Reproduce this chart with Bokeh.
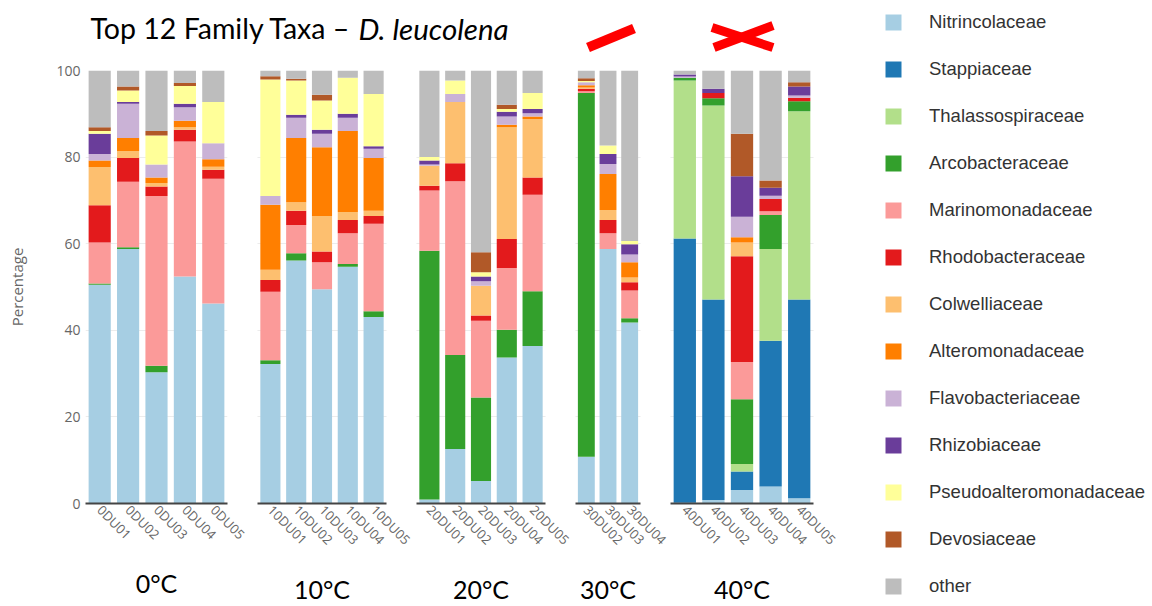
from bokeh.plotting import figure
from bokeh.layouts import row, column
from bokeh.models import (ColumnDataSource, FactorRange, Range1d, FixedTicker, Grid,
                          Label, Legend, LegendItem)
from bokeh.embed import file_html
from bokeh.resources import INLINE

# ---------------- data ----------------
samples = ["0DU01", "0DU02", "0DU03", "0DU04", "0DU05",
           "10DU01", "10DU02", "10DU03", "10DU04", "10DU05",
           "20DU01", "20DU02", "20DU03", "20DU04", "20DU05",
           "30DU02", "30DU03", "30DU04",
           "40DU01", "40DU02", "40DU03", "40DU04", "40DU05"]
groups = ["0°C"] * 5 + ["10°C"] * 5 + ["20°C"] * 5 + ["30°C"] * 3 + ["40°C"] * 5
group_names = ["0°C", "10°C", "20°C", "30°C", "40°C"]

families = ["Nitrincolaceae", "Stappiaceae", "Thalassospiraceae", "Arcobacteraceae",
            "Marinomonadaceae", "Rhodobacteraceae", "Colwelliaceae", "Alteromonadaceae",
            "Flavobacteriaceae", "Rhizobiaceae", "Pseudoalteromonadaceae", "Devosiaceae",
            "other"]
colors = ["#a6cee3", "#1f78b4", "#b2df8a", "#33a02c", "#fb9a99", "#e31a1c", "#fdbf6f",
          "#ff7f00", "#cab2d6", "#6a3d9a", "#ffff99", "#b15928", "#bdbdbd"]

Nitrincolaceae = [50.5, 58.8, 30.3, 52.4, 46.2, 32.2, 56.1, 49.5, 54.7, 43.1,
                  0.9, 12.6, 5.2, 33.7, 36.4, 10.8, 58.8, 41.8, 0.2, 0.8, 3.1, 3.9, 1.2]
Stappiaceae = [0, 0, 0, 0, 0, 0, 0, 0, 0, 0, 0, 0, 0, 0, 0, 0, 0, 0,
               61.0, 46.3, 4.3, 33.7, 45.9]
Thalassospiraceae = [0, 0, 0, 0, 0, 0, 0, 0, 0, 0, 0, 0, 0, 0, 0, 0, 0, 0,
                     36.5, 44.8, 1.7, 21.2, 43.5]
Arcobacteraceae = [0.3, 0.4, 1.5, 0, 0, 0.9, 1.7, 0, 0.6, 1.3,
                   57.5, 21.7, 19.3, 6.4, 12.6, 84.0, 0, 1.0, 0.6, 1.7, 15.0, 7.8, 2.3]
Marinomonadaceae = [9.5, 15.1, 39.2, 31.2, 28.8, 15.8, 6.5, 6.2, 7.1, 20.2,
                    13.9, 40.1, 17.7, 14.3, 22.3, 0.4, 3.6, 6.4, 0, 0, 8.6, 0.9, 0]
Rhodobacteraceae = [8.6, 5.5, 2.2, 2.7, 2.1, 2.7, 3.3, 2.5, 3.1, 1.8,
                    1.1, 4.2, 1.2, 6.7, 4.0, 0.6, 3.1, 1.9, 0, 1.2, 24.4, 2.8, 0.8]
Colwelliaceae = [8.8, 1.6, 0.8, 0.6, 0.7, 2.4, 2.0, 8.2, 1.8, 1.2,
                 4.6, 14.1, 6.9, 25.8, 13.5, 0.3, 2.3, 1.1, 0, 0, 3.2, 0, 0]
Alteromonadaceae = [1.5, 3.0, 1.3, 1.5, 1.7, 15.0, 14.8, 15.9, 18.7, 12.2,
                    0, 0, 0, 0.6, 0.6, 0.5, 8.3, 3.5, 0, 0, 1.2, 0, 0]
Flavobacteriaceae = [1.5, 7.9, 3.0, 3.1, 3.7, 2.0, 4.7, 3.1, 3.1, 2.1,
                     0.3, 1.9, 1.0, 1.9, 0.7, 0.7, 2.3, 1.8, 0.3, 0, 4.7, 0.8, 0.5]
Rhizobiaceae = [4.7, 0.4, 0, 0.8, 0, 0, 0.7, 0.9, 0.9, 0.6,
                0.9, 0, 1.1, 1.1, 1.0, 0, 2.3, 2.4, 0.5, 1.0, 9.4, 1.8, 2.1]
Pseudoalteromonadaceae = [0.6, 2.7, 6.7, 4.1, 9.5, 26.9, 7.9, 6.8, 8.3, 12.1,
                          0.8, 3.1, 1.0, 0.6, 3.7, 0.3, 2.0, 0.7, 0, 0, 0, 0, 0]
Devosiaceae = [0.9, 0.9, 1.0, 0.7, 0, 0.8, 0.4, 1.3, 0, 0,
               0, 0, 4.6, 1.0, 0, 0.6, 0, 0, 0, 0, 9.8, 1.7, 1.0]
other = [13.1, 3.7, 14.0, 2.9, 7.3, 1.3, 1.9, 5.6, 1.7, 5.4,
         20.0, 2.3, 42.0, 7.9, 5.2, 1.8, 17.3, 39.4, 0.9, 4.2, 14.6, 25.4, 2.7]

y_ticks = [0, 20, 40, 60, 80, 100]

values = dict(zip(families, [Nitrincolaceae, Stappiaceae, Thalassospiraceae, Arcobacteraceae,
                             Marinomonadaceae, Rhodobacteraceae, Colwelliaceae, Alteromonadaceae,
                             Flavobacteriaceae, Rhizobiaceae, Pseudoalteromonadaceae,
                             Devosiaceae, other]))

# ---------------- layout constants (px) ----------------
PAGE_W, PAGE_H = 1152, 606
frame_w = [142, 129, 129, 65, 143]
left_b = [85, 0, 0, 0, 0]
right_b = [30, 30, 30, 30, 59]
header_h = 62
top_b = 8
frame_h = 433
bottom_b = PAGE_H - header_h - top_b - frame_h
row_h = top_b + frame_h + bottom_b

panels = []
frame_centers = []
x_cursor = 0
for gi, g in enumerate(group_names):
    idx = [i for i, gg in enumerate(groups) if gg == g]
    data = {"sample": [samples[i] for i in idx]}
    for f in families:
        data[f] = [values[f][i] for i in idx]
    src = ColumnDataSource(data)

    w = left_b[gi] + frame_w[gi] + right_b[gi]
    p = figure(x_range=FactorRange(factors=data["sample"]), y_range=Range1d(0, 100),
               width=w, height=row_h,
               min_border_left=left_b[gi], min_border_right=right_b[gi],
               min_border_top=top_b, min_border_bottom=bottom_b,
               toolbar_location=None, output_backend="svg",
               y_axis_location="left" if gi == 0 else None)
    frame_centers.append(x_cursor + left_b[gi] + frame_w[gi] / 2)
    x_cursor += w

    p.vbar_stack(families, x="sample", width=0.78, source=src,
                 fill_color=colors, line_color=None)

    p.outline_line_color = None
    p.xgrid.grid_line_color = None
    if gi == 0:
        p.ygrid.ticker = FixedTicker(ticks=y_ticks)
        p.ygrid.grid_line_color = "#ececec"
        ax = p.yaxis[0]
        ax.ticker = FixedTicker(ticks=y_ticks)
        ax.axis_line_color = None
        ax.major_tick_line_color = None
        ax.minor_tick_line_color = None
        ax.major_tick_out = 0
        ax.major_label_standoff = 5
        ax.major_label_text_font = "Open Sans"
        ax.major_label_text_font_size = "14px"
        ax.major_label_text_color = "#666666"
        ax.axis_label = "Percentage"
        ax.axis_label_text_font = "Open Sans"
        ax.axis_label_text_font_size = "15px"
        ax.axis_label_text_font_style = "normal"
        ax.axis_label_text_color = "#666666"
        ax.axis_label_standoff = 26
    else:
        p.add_layout(Grid(dimension=1, ticker=FixedTicker(ticks=y_ticks),
                          grid_line_color="#ececec"))

    xa = p.xaxis[0]
    xa.axis_line_color = "#444444"
    xa.axis_line_width = 2
    xa.major_tick_line_color = None
    xa.major_tick_out = 0
    xa.major_tick_in = 0
    xa.major_label_standoff = 4
    xa.major_label_orientation = -0.785
    xa.major_label_text_font = "Open Sans"
    xa.major_label_text_font_size = "13px"
    xa.major_label_text_color = "#666666"
    xa.axis_label = g
    xa.axis_label_text_font = "Lato"
    xa.axis_label_text_font_size = "25px"
    xa.axis_label_text_font_style = "normal"
    xa.axis_label_text_color = "#000000"
    xa.axis_label_standoff = 16
    panels.append(p)

total_w = x_cursor

# ---------------- header: title + red marks ----------------
header = figure(width=total_w, height=header_h,
                x_range=Range1d(0, total_w), y_range=Range1d(header_h, 0),
                x_axis_location=None, y_axis_location=None, min_border=0,
                toolbar_location=None, output_backend="svg")
header.outline_line_color = None
header.grid.grid_line_color = None
header.add_layout(Label(x=90, y=27.5, text="Top 12 Family Taxa –", text_font="Lato",
                        text_font_size="28.5px", text_color="#000000",
                        text_baseline="middle", text_align="left"))
header.add_layout(Label(x=358, y=27.5, text="D. leucolena", text_font="Lato",
                        text_font_size="29.5px", text_font_style="italic",
                        text_color="#000000", text_baseline="middle",
                        text_align="left"))
c4, c5 = frame_centers[3], frame_centers[4]
header.segment(x0=[c4 - 20], y0=[47], x1=[c4 + 26], y1=[28],
               line_color="#ff0000", line_width=10, line_cap="butt")
header.segment(x0=[c5 - 30, c5 - 28], y0=[27, 47], x1=[c5 + 31, c5 + 31], y1=[47, 25],
               line_color="#ff0000", line_width=9, line_cap="butt")

# ---------------- legend ----------------
legend_w = PAGE_W - total_w
lf = figure(width=legend_w, height=PAGE_H,
            x_range=Range1d(0, 1), y_range=Range1d(0, 1),
            x_axis_location=None, y_axis_location=None, min_border=0,
            toolbar_location=None, output_backend="svg")
lf.outline_line_color = None
lf.grid.grid_line_color = None
items = []
for f, c in zip(families, colors):
    # zero-size proxy glyph: only used to give the legend its swatch colour
    r = lf.vbar(x=[0.5], top=[0], bottom=[0], width=0, fill_color=c, line_color=None)
    items.append(LegendItem(label=f, renderers=[r]))
legend = Legend(items=items, location="top_left", margin=11, padding=0,
                glyph_width=20, glyph_height=20, label_standoff=26, spacing=25,
                label_text_font="Liberation Sans", label_text_font_size="18.5px",
                label_text_color="#333333", border_line_color=None,
                background_fill_alpha=0)
lf.add_layout(legend)

layout = row(column(header, row(*panels)), lf)

open("out.html", "w").write(file_html(layout, INLINE))
